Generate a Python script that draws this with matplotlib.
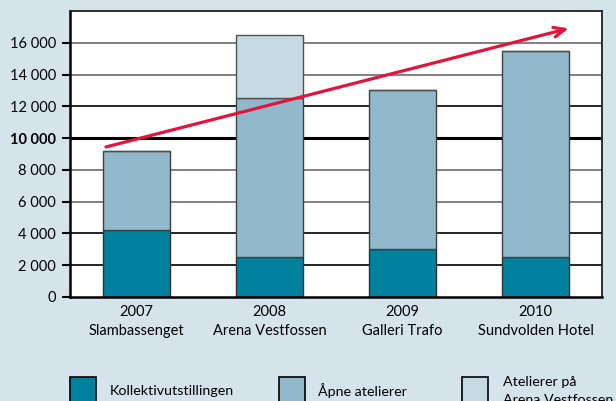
import matplotlib.pyplot as plt
from matplotlib.patches import Rectangle

# data
years = ['2007', '2008', '2009', '2010']
venues = ['Slambassenget', 'Arena Vestfossen', 'Galleri Trafo', 'Sundvolden Hotel']
kollektiv = [4200, 2500, 3000, 2500]
apne = [5000, 10000, 10000, 13000]
arena = [0, 4000, 0, 0]
series_names = ['Kollektivutstillingen', 'Åpne atelierer', 'Atelierer på\nArena Vestfossen']
yticks = [0, 2000, 4000, 6000, 8000, 10000, 12000, 14000, 16000]
trend_start = (-0.25, 9400)
trend_end = (3.27, 16950)

colors = ['#00829f', '#91b9cb', '#c5d9e3']
bg = '#d5e3eb'

plt.rcParams['font.family'] = ['Lato', 'DejaVu Sans']

fig = plt.figure(figsize=(6.16, 4.01), dpi=100, facecolor=bg)
ax = fig.add_axes([70 / 616, 1 - 297 / 401, 532 / 616, 286 / 401])
ax.set_facecolor('white')

# grid lines, some grey, some black, 10 000 bold
grid_style = {2000: ('black', 1.2), 4000: ('black', 1.2), 6000: ('#808080', 1.4),
              8000: ('#808080', 1.4), 10000: ('black', 2.2), 12000: ('black', 1.2),
              14000: ('#808080', 1.4), 16000: ('#808080', 1.4)}
for y, (c, lw) in grid_style.items():
    ax.axhline(y, color=c, lw=lw, zorder=1)

x = range(len(years))
bottom2 = kollektiv
bottom3 = [a + b for a, b in zip(kollektiv, apne)]
ax.bar(x, kollektiv, width=0.5, color=colors[0], edgecolor='#303030', lw=1, zorder=2)
ax.bar(x, apne, width=0.5, bottom=bottom2, color=colors[1], edgecolor='#404040', lw=1, zorder=2)
ax.bar(x, arena, width=0.5, bottom=bottom3, color=colors[2], edgecolor='#505050', lw=1, zorder=2)

ax.annotate('', xy=trend_end, xytext=trend_start,
            arrowprops=dict(arrowstyle='->,head_length=0.8,head_width=0.35',
                            color='#e3143c', lw=2.3), zorder=5)

ax.set_xlim(-0.5, 3.5)
ax.set_ylim(0, 18000)
ax.set_yticks(yticks)
ax.set_yticklabels([f'{v:,}'.replace(',', ' ') for v in yticks], fontsize=10.5)
for lbl in ax.get_yticklabels():
    if lbl.get_text() == '10 000':
        lbl.set_fontweight('bold')
ax.set_xticks(list(x))
ax.set_xticklabels([f'{y}\n{v}' for y, v in zip(years, venues)], fontsize=10.5, linespacing=1.45)
ax.tick_params(axis='x', length=0, pad=6)
ax.tick_params(axis='y', length=6, width=1.5, direction='out', pad=4)
for s in ['left', 'bottom']:
    ax.spines[s].set_linewidth(1.8)
for s in ['top', 'right']:
    ax.spines[s].set_linewidth(1.3)
    ax.spines[s].set_color('#202020')

# legend, placed by hand
sq_x = [70, 279, 462]
txt_x = [110, 318, 503]
for i, name in enumerate(series_names):
    fig.add_artist(Rectangle((sq_x[i] / 616, -0.02), 26 / 616, (401 - 377) / 401 + 0.02,
                             transform=fig.transFigure, facecolor=colors[i],
                             edgecolor='black', lw=1.2))
    fig.text(txt_x[i] / 616, 1 - 391 / 401, name, fontsize=10.3, va='center', ha='left',
             linespacing=1.5)

fig.savefig('out.png', dpi=100, facecolor=bg)
